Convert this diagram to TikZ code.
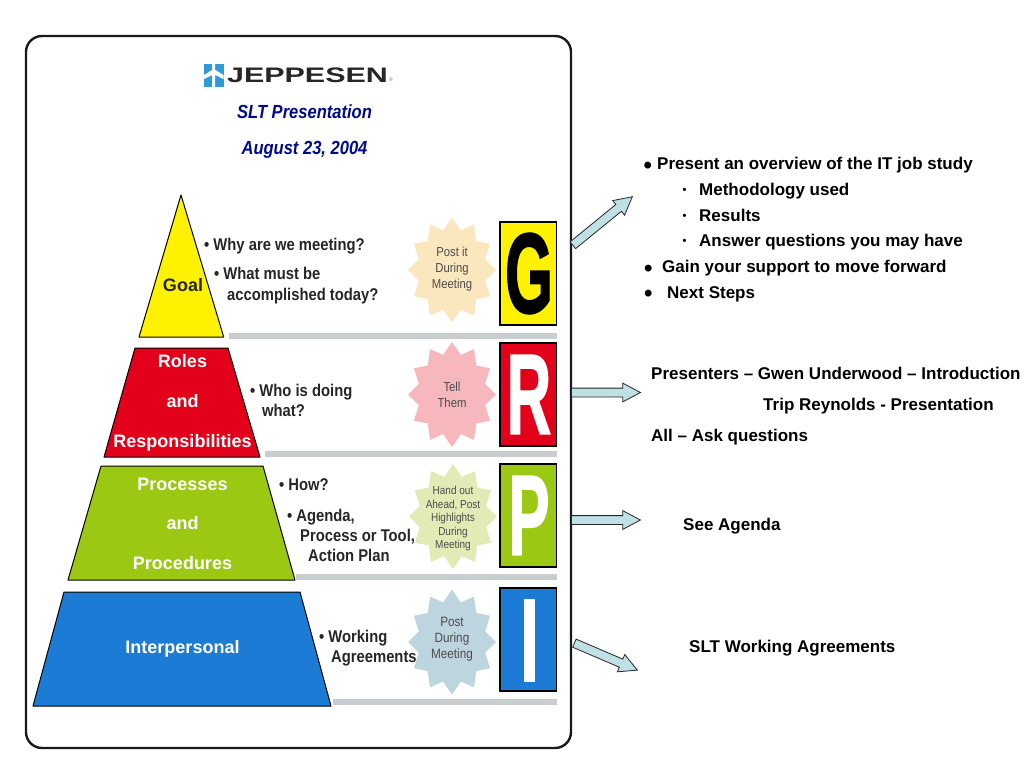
\documentclass[tikz,border=0pt]{standalone}
\usepackage{fontspec}
\setmainfont{Liberation Sans}
\newfontfamily\slidefont[FakeStretch=.87]{Liberation Sans}
\newfontfamily\letterfont[FakeBold=1.6]{Liberation Sans}
\usetikzlibrary{shapes.arrows}

\definecolor{navy}{HTML}{000A8C}
\definecolor{logoblue}{HTML}{2E9AD6}
\definecolor{goalyellow}{HTML}{FFF200}
\definecolor{rolesred}{HTML}{E2001A}
\definecolor{procgreen}{HTML}{9BC813}
\definecolor{interblue}{HTML}{1C7CD5}
\definecolor{barcolor}{HTML}{C8CDCF}
\definecolor{arrowcolor}{HTML}{BFE0E4}
\definecolor{burstG}{HTML}{FBE7BD}
\definecolor{burstR}{HTML}{F6B8BC}
\definecolor{burstP}{HTML}{E2EBB5}
\definecolor{burstI}{HTML}{BDD5DF}

\tikzset{
  tier/.style={draw=black, line width=1pt, line join=round},
  tierlabel/.style={font=\fontsize{18}{20}\selectfont\bfseries, text=white, inner sep=0pt, anchor=base},
  sidetext/.style={font=\slidefont\fontsize{17}{20}\selectfont\bfseries, text=black!85, anchor=base west, inner sep=0pt},
  bursttext/.style={font=\slidefont\fontsize{13}{16}\selectfont, text=black!70, align=center, inner sep=0pt},
  lettertext/.style={font=\letterfont\fontsize{114}{114}\selectfont\bfseries, xscale=.54, transform shape, inner sep=0pt},
  notetext/.style={font=\fontsize{17}{19}\selectfont\bfseries, anchor=base west, inner sep=0pt},
  blockarrow/.style={single arrow, draw=black!85, line width=.8pt, fill=arrowcolor, inner sep=4pt,
    single arrow head extend=5pt, single arrow tip angle=56, anchor=tail},
}

\newcommand{\burstshape}[3]{%
  \fill[#3] plot[samples at={0,15,...,345}, variable=\a]
    ({#1+44*(mod(\a,30)<1?1:.78)*cos(\a+90)},{#2+52.5*(mod(\a,30)<1?1:.78)*sin(\a+90)}) -- cycle;
}

\begin{document}
\begin{tikzpicture}[x=1pt, y=-1pt]
\useasboundingbox (0,0) rectangle (1024,768);
\draw[line width=2.4pt, black!90, rounded corners=16pt] (26,36) rectangle (571,748);

% logo and title
\fill[logoblue] (204,64) rectangle (223.5,87);
\fill[white] (212.2,64) -- (215.2,64) -- (215.2,70) -- (223.5,75) -- (223.5,79) -- (215.2,75) -- (215.2,87)
  -- (212.2,87) -- (212.2,75) -- (204,79) -- (204,75) -- (212.2,70) -- cycle;
\node[font=\fontsize{21}{21}\selectfont\bfseries, text=black!85, xscale=1.45, transform shape, inner sep=0pt] (logotext) at (307.5,75.5) {JEPPESEN};
\node[font=\fontsize{5}{5}\selectfont, text=black!60, inner sep=0pt] (logomark) at (391,79.5) {®};
\node[font=\slidefont\fontsize{19}{20}\selectfont\bfseries\itshape, text=navy, inner sep=0pt] (slttitle) at (304.5,112) {SLT Presentation};
\node[font=\slidefont\fontsize{19}{20}\selectfont\bfseries\itshape, text=navy, inner sep=0pt, anchor=base] (sltdate) at (304.5,154.5) {August 23, 2004};

% pyramid
\draw[tier, fill=goalyellow] (181,195) -- (223.7,337) -- (139,337) -- cycle;
\draw[tier, fill=rolesred] (135,348) -- (228,348) -- (260,457) -- (104,457) -- cycle;
\draw[tier, fill=procgreen] (101,466) -- (263,466) -- (295,580) -- (68,580) -- cycle;
\draw[tier, fill=interblue] (64,592) -- (300,592) -- (331,706) -- (33,706) -- cycle;

\node[tierlabel, text=black!85] (goal) at (183,291) {Goal};
\foreach \name/\txt/\y in {roles/Roles/367, rolesand/and/407, resp/Responsibilities/447,
    proc/Processes/490, procand/and/529, procs/Procedures/569, inter/Interpersonal/653} {
 \node[tierlabel] (\name) at (182.5,\y) {\txt};
}

% grey bars
\foreach \x/\y in {229/336, 265/454, 296/577, 333/702} {
 \fill[barcolor] (\x,\y-3) rectangle (557,\y+3);
}

% letter boxes
\foreach \name/\y/\col/\ink/\letter in {G/222/goalyellow/black/G, R/343/rolesred/white/R, P/464/procgreen/white/P} {
 \draw[black, line width=1.4pt, fill=\col] (500,\y) rectangle (556.5,\y+103);
 \node[lettertext, text=\ink] (letter\name) at (529,\y+51.5) {\letter};
}
\draw[black, line width=1.4pt, fill=interblue] (500,588) rectangle (556.5,691);
\fill[white] (524,599) rectangle (534.5,682);

% bursts
\burstshape{452}{270}{burstG}
\burstshape{452}{394.5}{burstR}
\burstshape{453}{516.5}{burstP}
\burstshape{452}{642}{burstI}
\node[bursttext, font=\slidefont\fontsize{13}{16}\selectfont] (postG) at (452,269) {Post it\\During\\Meeting};
\node[bursttext, font=\slidefont\fontsize{13}{15.5}\selectfont] (tellR) at (452,395) {Tell\\Them};
\node[bursttext, font=\slidefont\fontsize{11.5}{13.5}\selectfont] (handP) at (453,519) {Hand out\\Ahead, Post\\Highlights\\During\\Meeting};
\node[bursttext, font=\slidefont\fontsize{13.5}{16}\selectfont] (postI) at (452,639) {Post\\During\\Meeting};

% text beside the pyramid
\foreach \name/\x/\y/\txt in {why/204/250/{• Why are we meeting?}, what/214/279/{• What must be},
    accomp/227/300/{accomplished today?}, who/250/396/{• Who is doing}, whatb/262/416/{what?},
    how/279/490/{• How?}, agenda/287/521/{• Agenda,}, tool/300/541/{Process or Tool,},
    plan/308/561/{Action Plan}, work/319/642/{• Working}, agree/331/662/{Agreements}} {
 \node[sidetext] (\name) at (\x,\y) {\txt};
}

% arrows
\node[blockarrow, rotate=39.2, minimum height=76.8pt] (arrowG) at (572.5,245.5) {};
\node[blockarrow, minimum height=69pt] (arrowR) at (571,392.5) {};
\node[blockarrow, minimum height=69pt] (arrowP) at (571,520) {};
\node[blockarrow, rotate=-23.2, minimum height=68.5pt] (arrowI) at (574,643) {};

% notes on the right
\foreach \name/\x/\y/\txt in {over/657/169.5/{Present an overview of the IT job study}, meth/699/195.5/{Methodology used},
    res/699/221/{Results}, ans/699/246.5/{Answer questions you may have}, gain/662/272.5/{Gain your support to move forward},
    next/667/298/{Next Steps}, pres/651/379.5/{Presenters – Gwen Underwood – Introduction},
    trip/763/410.5/{Trip Reynolds - Presentation}, ask/651/441.5/{All – Ask questions},
    see/683/530.5/{See Agenda}, slt/689/652.5/{SLT Working Agreements}} {
 \node[notetext] (\name) at (\x,\y) {\txt};
}
\foreach \name/\x/\y in {overdot/643.5/173, gaindot/644/276, nextdot/644/301.5} {
 \node[notetext, font=\fontsize{24}{24}\selectfont\bfseries] (\name) at (\x,\y) {•};
}
\foreach \name/\y in {methdot/193.5, resdot/219, ansdot/244.5} {
 \node[notetext, font=\fontsize{11}{11}\selectfont\bfseries] (\name) at (682.5,\y) {•};
}
\end{tikzpicture}
\end{document}
